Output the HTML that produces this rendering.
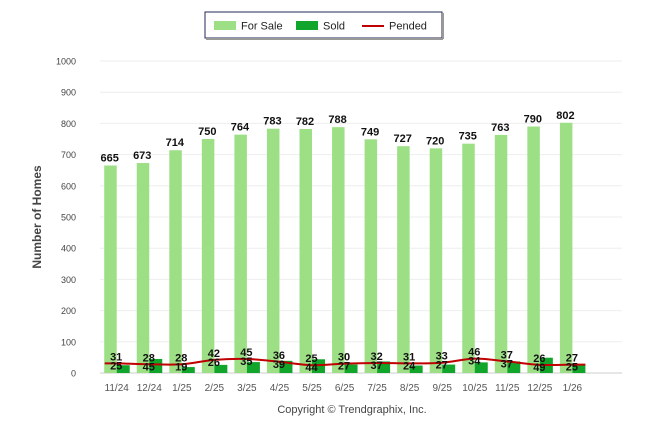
<!DOCTYPE html>
<html><head><meta charset="utf-8"><style>
body{margin:0;background:#fff;font-family:"Liberation Sans",Arial,sans-serif;}
</style></head><body>
<svg id="c" width="646" height="434" xmlns="http://www.w3.org/2000/svg">
<rect x="205" y="12" width="237" height="26" fill="#fff" stroke="#1f2a55" stroke-width="1"/>
<line x1="206" y1="39" x2="443" y2="39" stroke="#999" stroke-width="2"/>
<line x1="443" y1="13" x2="443" y2="39" stroke="#999" stroke-width="2"/>
<g><rect x="214" y="21" width="22" height="9" fill="#9ddf85"/><text x="241" y="29.5" font-size="11" fill="#222">For Sale</text></g>
<g><rect x="296" y="21" width="22" height="9" fill="#11a52b"/><text x="323" y="29.5" font-size="11" fill="#222">Sold</text></g>
<g><line x1="362" y1="26" x2="384" y2="26" stroke="#c00000" stroke-width="2"/><text x="389" y="29.5" font-size="11" fill="#222">Pended</text></g>
<text transform="translate(41,217) rotate(-90)" text-anchor="middle" font-size="12" font-weight="bold" fill="#444">Number of Homes</text>
<text x="352" y="413" text-anchor="middle" font-size="11" fill="#444">Copyright © Trendgraphix, Inc.</text>
<g id="grid"></g><g id="bars"></g><g id="line"></g><g id="labels"></g>
</svg>
<script>
const categories=["11/24","12/24","1/25","2/25","3/25","4/25","5/25","6/25","7/25","8/25","9/25","10/25","11/25","12/25","1/26"];
const forSale=[665,673,714,750,764,783,782,788,749,727,720,735,763,790,802];
const sold=[25,45,19,26,35,39,44,27,37,24,27,34,37,49,25];
const pended=[31,28,28,42,45,36,25,30,32,31,33,46,37,26,27];
const yTicks=[0,100,200,300,400,500,600,700,800,900,1000];
const NS="http://www.w3.org/2000/svg";
const y=v=>373-v*0.312;
const x=i=>116.7+i*32.55;
function mk(tag,attrs,parent,text){const e=document.createElementNS(NS,tag);for(const k in attrs)e.setAttribute(k,attrs[k]);if(text!==undefined)e.textContent=text;parent.appendChild(e);return e;}
const grid=document.getElementById('grid'),bars=document.getElementById('bars'),line=document.getElementById('line'),labels=document.getElementById('labels');
yTicks.forEach(t=>{
 const l=mk('line',{x1:100,x2:622,y1:y(t),y2:y(t),stroke:t===0?'#ccc':'#eee','stroke-width':1},grid);
 
 
 const tx=mk('text',{x:76,y:y(t)+3.5,'text-anchor':'end','font-size':9,fill:'#444'},grid,t);
 
 
});
categories.forEach((c,i)=>{
 const tx=mk('text',{x:x(i),y:391,'text-anchor':'middle','font-size':10,fill:'#555'},grid,c);
 
 
 const b1=mk('rect',{x:x(i)-12.5,y:y(forSale[i]),width:12.5,height:y(0)-y(forSale[i]),fill:'#9ddf85'},bars);
 
 
 const b2=mk('rect',{x:x(i),y:y(sold[i]),width:13,height:y(0)-y(sold[i]),fill:'#11a52b'},bars);
 
 
 const l1=mk('text',{x:x(i)-7,y:y(forSale[i])-4,'text-anchor':'middle','font-size':11,'font-weight':'bold',fill:'#111'},labels,forSale[i]);
 
 
 const l2=mk('text',{x:x(i)-0.5,y:y(pended[i])-3,'text-anchor':'middle','font-size':11,'font-weight':'bold',fill:'#111'},labels,pended[i]);
 
 
 const l3=mk('text',{x:x(i)-0.5,y:y(pended[i])+6,'text-anchor':'middle','font-size':11,'font-weight':'bold',fill:'#111'},labels,sold[i]);
 
 
});
const pts=pended.map((v,i)=>[x(i),y(v)]);
let d=`M${pts[0][0]-12},${pts[0][1]} L${pts[0][0]},${pts[0][1]}`;
for(let i=0;i<pts.length-1;i++){
 const p0=pts[i-1]||pts[i],p1=pts[i],p2=pts[i+1],p3=pts[i+2]||p2;
 d+=` C${p1[0]+(p2[0]-p0[0])/6},${p1[1]+(p2[1]-p0[1])/6} ${p2[0]-(p3[0]-p1[0])/6},${p2[1]-(p3[1]-p1[1])/6} ${p2[0]},${p2[1]}`;
}
const last=pts[pts.length-1];
d+=` L${last[0]+13},${last[1]}`;
const pl=mk('path',{d:d,fill:'none',stroke:'#c00000','stroke-width':2},line);


</script>
</body></html>
